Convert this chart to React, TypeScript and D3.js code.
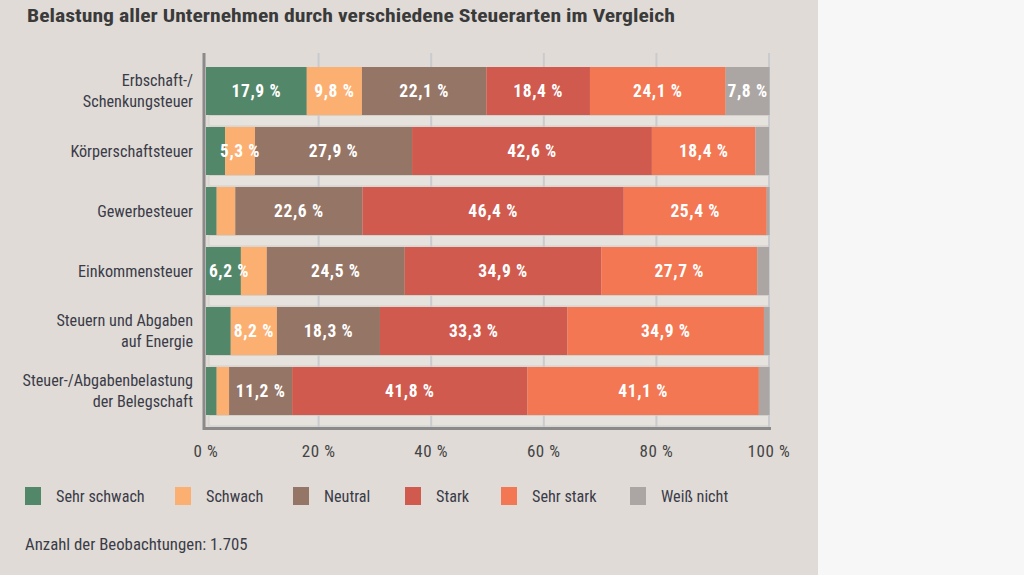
import React from 'react';
import * as d3 from 'd3';

const title = 'Belastung aller Unternehmen durch verschiedene Steuerarten im Vergleich';
const footnote = 'Anzahl der Beobachtungen: 1.705';

const categories = [
  ['Erbschaft-/', 'Schenkungsteuer'],
  ['Körperschaftsteuer'],
  ['Gewerbesteuer'],
  ['Einkommensteuer'],
  ['Steuern und Abgaben', 'auf Energie'],
  ['Steuer-/Abgabenbelastung', 'der Belegschaft'],
];

const seriesNames = ['Sehr schwach', 'Schwach', 'Neutral', 'Stark', 'Sehr stark', 'Weiß nicht'];
const seriesColors = ['#52876a', '#fbb072', '#957565', '#d05a4e', '#f27752', '#aba6a3'];

// values per series, one entry per category (percent)
const sehrSchwach = [17.9, 3.4, 1.9, 6.2, 4.4, 1.9];
const schwach = [9.8, 5.3, 3.3, 4.6, 8.2, 2.2];
const neutral = [22.1, 27.9, 22.6, 24.5, 18.3, 11.2];
const stark = [18.4, 42.6, 46.4, 34.9, 33.3, 41.8];
const sehrStark = [24.1, 18.4, 25.4, 27.7, 34.9, 41.1];
const weissNicht = [7.8, 2.4, 0.5, 2.1, 1.0, 1.9];

const ticks = [0, 20, 40, 60, 80, 100];

const fmt = (v: number) => `${v.toFixed(1).replace('.', ',')} %`;

export default function App() {
  const width = 1024;
  const height = 575;
  const font = "'Liberation Sans Narrow', 'Roboto Condensed', 'DejaVu Sans Condensed', sans-serif";

  const x = d3.scaleLinear().domain([0, 100]).range([206, 769]);
  const y = d3
    .scaleBand<number>()
    .domain(d3.range(categories.length))
    .range([61, 421])
    .paddingInner(0.2)
    .paddingOuter(0.1);

  const all = [sehrSchwach, schwach, neutral, stark, sehrStark, weissNicht];
  const rows = categories.map((_, i) => {
    const r: Record<string, number> = {};
    seriesNames.forEach((k, j) => (r[k] = all[j][i]));
    return r;
  });
  const stacked = d3.stack<Record<string, number>>().keys(seriesNames)(rows);

  const bw = y.bandwidth();
  const gap = y.step() - bw;

  return (
    <svg width={width} height={height} style={{ position: 'absolute', left: 0, top: 0 }}>
      <rect x={0} y={0} width={818} height={height} fill="#e0dbd7" />
      <rect x={818} y={0} width={width - 818} height={height} fill="#f7f7f7" />

      <text x={27} y={22} fontFamily={font} fontWeight="bold" fontSize={19} fill="#3a3a3a"
        textLength={648} lengthAdjust="spacingAndGlyphs">
        {title}
      </text>

      {/* track strips below bars */}
      {categories.map((_, i) => (
        <rect key={'s' + i} x={x(0) + 3} y={(y(i) as number) + bw + 0.5} width={x(100) - x(0) - 3}
          height={gap - 1.5} fill="#e6e2de" stroke="#d3cfcb" strokeWidth={1} />
      ))}

      {/* grid */}
      {ticks.slice(1).map((t) => (
        <line key={'g' + t} x1={x(t)} x2={x(t)} y1={53} y2={427} stroke="#c9cbce" strokeWidth={2} />
      ))}

      {/* bars */}
      {stacked.map((s, j) => (
        <g key={s.key}>
          {s.map((d, i) => (
            <rect key={i} x={x(d[0])} y={y(i)} width={Math.max(0, x(d[1]) - x(d[0]))} height={bw}
              fill={seriesColors[j]} />
          ))}
        </g>
      ))}

      {/* axes */}
      <line x1={204} x2={204} y1={53} y2={430} stroke="#8a8a8a" strokeWidth={3} />
      <line x1={203} x2={771} y1={428.5} y2={428.5} stroke="#8a8a8a" strokeWidth={3} />

      {/* value labels, kept inside the plot area */}
      {stacked.map((s, j) =>
        s.map((d, i) => {
          const v = all[j][i];
          if (v < 5) return null;
          const label = fmt(v);
          const half = (label.length * 8.4) / 2;
          const cx = Math.min(Math.max((x(d[0]) + x(d[1])) / 2, x(0) + half + 2), x(100) - half);
          return (
            <text key={s.key + i} x={cx} y={(y(i) as number) + bw / 2}
              dy="0.36em" textAnchor="middle" fontFamily={font} fontWeight="bold" fontSize={17.5}
              letterSpacing={0.6} fill="#ffffff">
              {label}
            </text>
          );
        })
      )}

      {ticks.map((t) => (
        <text key={'t' + t} x={x(t)} y={457} textAnchor="middle" fontFamily={font} fontSize={17}
          letterSpacing={0.6} fill="#444444">
          {`${t} %`}
        </text>
      ))}

      {/* category labels */}
      {categories.map((lines, i) => {
        const cy = (y(i) as number) + bw / 2;
        const lh = 21;
        const start = cy - ((lines.length - 1) * lh) / 2;
        return (
          <text key={'c' + i} textAnchor="end" fontFamily={font} fontSize={16.2} fill="#3b3b48">
            {lines.map((l, k) => (
              <tspan key={k} x={193} y={start + k * lh} dy="0.35em">
                {l}
              </tspan>
            ))}
          </text>
        );
      })}

      {/* legend */}
      {seriesNames.map((n, j) => {
        const lx = [25, 175, 293, 405, 501, 630][j];
        return (
          <g key={'l' + n}>
            <rect x={lx} y={487} width={16} height={18} fill={seriesColors[j]} />
            <text x={lx + 31} y={496} dy="0.35em" fontFamily={font} fontSize={16.2} fill="#3b3b48">
              {n}
            </text>
          </g>
        );
      })}

      <text x={25} y={544} dy="0.35em" fontFamily={font} fontSize={16.8} fill="#3b3b48">
        {footnote}
      </text>
    </svg>
  );
}
